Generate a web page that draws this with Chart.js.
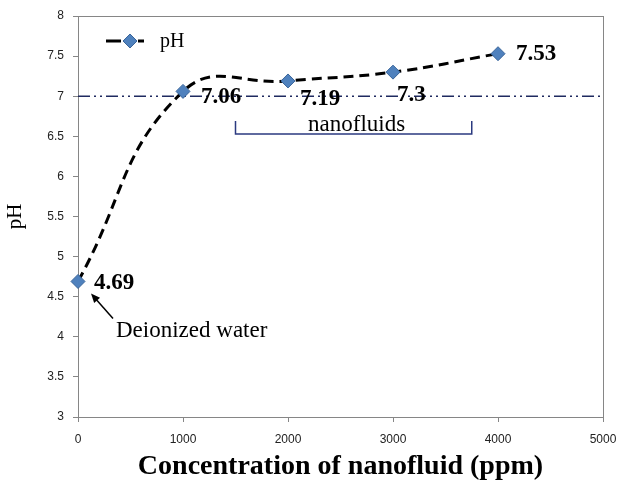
<!DOCTYPE html>
<html lang="en">
<head>
    <meta charset="UTF-8">
    <title>pH vs concentration</title>
    <script src="https://cdn.jsdelivr.net/npm/chart.js"></script>
    <style>
        html, body { margin: 0; padding: 0; background: #fff; }
        #wrap { width: 622px; height: 488px; }
    </style>
</head>
<body>
    <div id="wrap"><canvas id="myChart" width="622" height="488"></canvas></div>

    <script>
    // data
    const concentrations = [0, 1000, 2000, 3000, 4000];
    const phValues = [4.69, 7.06, 7.19, 7.3, 7.53];
    const pointLabels = ['4.69', '7.06', '7.19', '7.3', '7.53'];
    const xTicks = [0, 1000, 2000, 3000, 4000, 5000];
    const yTicks = [3, 3.5, 4, 4.5, 5, 5.5, 6, 6.5, 7, 7.5, 8];
    const neutralPh = [7];
    const nanofluidRange = [1500, 3750];

    const serif = '"Liberation Serif", "Times New Roman", serif';
    const sans = '"Liberation Sans", Arial, sans-serif';
    const navy = '#1f2a60';

    // everything that is not a dataset: box, reference line, bracket, labels, legend, arrow
    const extras = {
        id: 'extras',
        beforeDatasetsDraw(chart) {
            const ctx = chart.ctx;
            const ys = chart.scales.y;
            const a = chart.chartArea;
            ctx.save();
            // frame
            ctx.strokeStyle = '#868686';
            ctx.lineWidth = 1;
            ctx.strokeRect(a.left + 0.5, a.top + 0.5, a.right - a.left, a.bottom - a.top);

            // pH = 7 line
            const y7 = ys.getPixelForValue(neutralPh[0]);
            ctx.strokeStyle = navy;
            ctx.lineWidth = 1.5;
            ctx.setLineDash([12, 4, 2, 4, 2, 4]);
            ctx.beginPath();
            ctx.moveTo(a.left, y7);
            ctx.lineTo(a.right, y7);
            ctx.stroke();
            ctx.restore();
        },
        afterDatasetsDraw(chart) {
            const ctx = chart.ctx;
            const xs = chart.scales.x, ys = chart.scales.y;
            ctx.save();

            // bracket
            const bx1 = xs.getPixelForValue(nanofluidRange[0]);
            const bx2 = xs.getPixelForValue(nanofluidRange[1]);
            ctx.strokeStyle = '#2b3a80';
            ctx.lineWidth = 1.5;
            ctx.beginPath();
            ctx.moveTo(bx1, 121);
            ctx.lineTo(bx1, 134);
            ctx.lineTo(bx2, 134);
            ctx.lineTo(bx2, 121);
            ctx.stroke();
            ctx.fillStyle = '#000';
            ctx.font = '23px ' + serif;
            ctx.textAlign = 'center';
            ctx.textBaseline = 'alphabetic';
            ctx.fillText('nanofluids', (bx1 + bx2) / 2 + 3, 131);

            // point value labels
            const offs = [[16, 2], [18, 6], [12, 18], [4, 23], [18, 0]];
            ctx.font = 'bold 23px ' + serif;
            ctx.textAlign = 'left';
            ctx.textBaseline = 'middle';
            concentrations.forEach((c, i) => {
                const px = xs.getPixelForValue(c), py = ys.getPixelForValue(phValues[i]);
                ctx.fillText(pointLabels[i], px + offs[i][0], py + offs[i][1]);
            });

            // arrow to deionized water point
            const p0x = xs.getPixelForValue(concentrations[0]);
            const p0y = ys.getPixelForValue(phValues[0]);
            const tipX = p0x + 13, tipY = p0y + 12;
            const tailX = p0x + 35, tailY = p0y + 37;
            ctx.strokeStyle = '#000';
            ctx.lineWidth = 1.5;
            ctx.beginPath();
            ctx.moveTo(tailX, tailY);
            ctx.lineTo(tipX + 3, tipY + 3.5);
            ctx.stroke();
            const ang = Math.atan2(tipY - tailY, tipX - tailX);
            ctx.fillStyle = '#000';
            ctx.beginPath();
            ctx.moveTo(tipX, tipY);
            ctx.lineTo(tipX - 10 * Math.cos(ang - 0.4), tipY - 10 * Math.sin(ang - 0.4));
            ctx.lineTo(tipX - 10 * Math.cos(ang + 0.4), tipY - 10 * Math.sin(ang + 0.4));
            ctx.closePath();
            ctx.fill();
            ctx.font = '23px ' + serif;
            ctx.textBaseline = 'middle';
            ctx.fillText('Deionized water', p0x + 38, p0y + 49);

            // legend
            ctx.strokeStyle = '#000';
            ctx.lineWidth = 3;
            ctx.beginPath();
            ctx.moveTo(106, 41);
            ctx.lineTo(121, 41);
            ctx.moveTo(138, 41);
            ctx.lineTo(144, 41);
            ctx.stroke();
            ctx.fillStyle = '#4f81bd';
            ctx.strokeStyle = '#3a659a';
            ctx.lineWidth = 1;
            ctx.beginPath();
            ctx.moveTo(130, 34);
            ctx.lineTo(137, 41);
            ctx.lineTo(130, 48);
            ctx.lineTo(123, 41);
            ctx.closePath();
            ctx.fill();
            ctx.stroke();
            ctx.fillStyle = '#000';
            ctx.font = '20px ' + serif;
            ctx.textBaseline = 'middle';
            ctx.fillText('pH', 160, 42);

            ctx.restore();
        }
    };

    new Chart(document.getElementById('myChart'), {
        type: 'line',
        data: {
            datasets: [{
                label: 'pH',
                data: concentrations.map((c, i) => ({ x: c, y: phValues[i] })),
                borderColor: '#000',
                borderWidth: 3,
                borderDash: [10, 6],
                tension: 0.45,
                clip: false,
                pointStyle: 'rectRot',
                pointRadius: 7,
                pointBackgroundColor: '#4f81bd',
                pointBorderColor: '#3a659a',
                pointBorderWidth: 1
            }]
        },
        options: {
            responsive: false,
            animation: false,
            layout: { padding: { top: 16, right: 19, left: 0, bottom: 0 } },
            plugins: { legend: { display: false }, tooltip: { enabled: false } },
            scales: {
                x: {
                    type: 'linear',
                    min: 0, max: 5000,
                    afterBuildTicks: s => { s.ticks = xTicks.map(v => ({ value: v })); },
                    afterFit: s => { s.height = 71; s.paddingLeft = 0; s.paddingRight = 0; },
                    border: { color: '#868686' },
                    grid: { drawOnChartArea: false, tickLength: 5, color: '#868686' },
                    ticks: { color: '#222', padding: 10, callback: v => String(v), font: { family: sans, size: 12 } },
                    title: {
                        display: true,
                        text: 'Concentration of nanofluid (ppm)',
                        color: '#000',
                        padding: { top: 4 },
                        font: { family: serif, size: 28, weight: 'bold' }
                    }
                },
                y: {
                    min: 3, max: 8,
                    afterBuildTicks: s => { s.ticks = yTicks.map(v => ({ value: v })); },
                    afterFit: s => { s.width = 78; s.paddingTop = 0; s.paddingBottom = 0; },
                    border: { color: '#868686' },
                    grid: { drawOnChartArea: false, tickLength: 5, color: '#868686' },
                    ticks: { color: '#222', padding: 9, callback: v => String(v), font: { family: sans, size: 12 } },
                    title: {
                        display: true,
                        text: 'pH',
                        color: '#000',
                        padding: { top: 3, bottom: 0 },
                        font: { family: serif, size: 21 }
                    }
                }
            }
        },
        plugins: [extras]
    });
    </script>
</body>
</html>
